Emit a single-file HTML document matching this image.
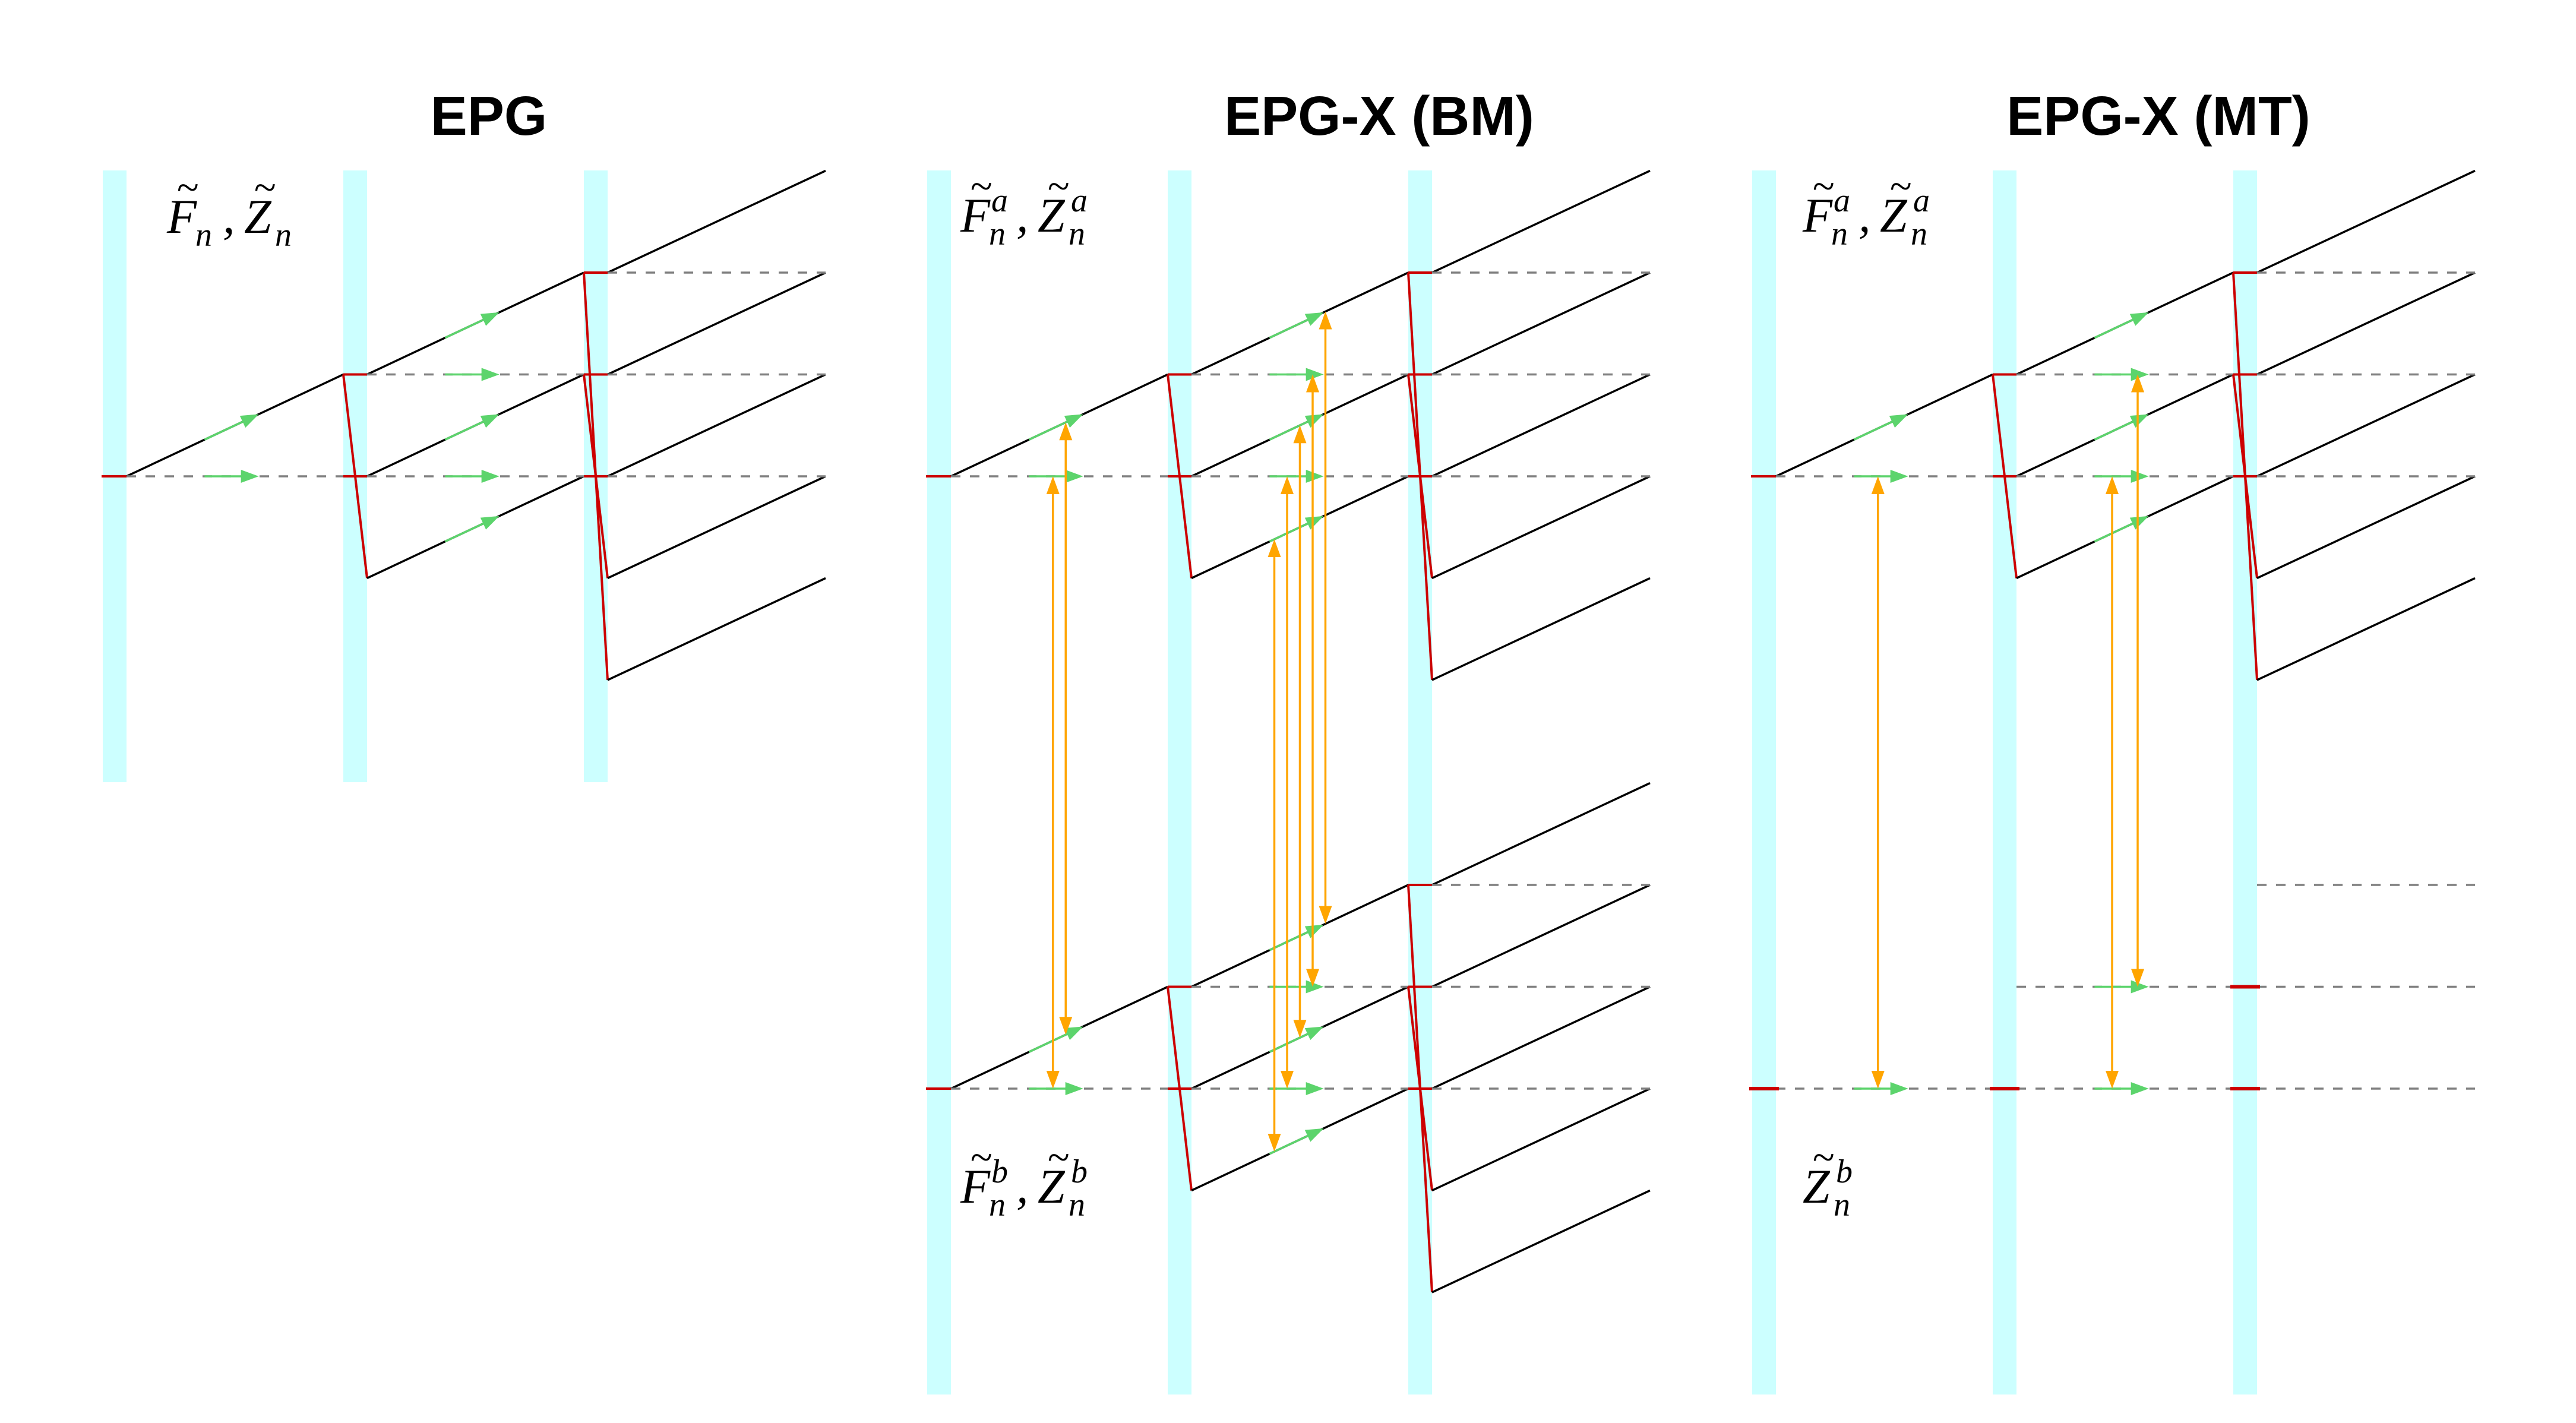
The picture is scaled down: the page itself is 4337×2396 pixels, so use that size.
<!DOCTYPE html>
<html><head><meta charset="utf-8"><style>
html,body{margin:0;padding:0;background:#fff}
svg{display:block}
.t{font-family:"Liberation Sans",sans-serif;font-weight:bold;font-size:93px;text-anchor:middle}
.m{font-family:"Liberation Serif",serif;font-style:italic}
</style></head><body>
<svg id="c" width="4337" height="2396" viewBox="0 0 4337 2396" xmlns="http://www.w3.org/2000/svg">
<text class="t" x="823" y="227">EPG</text>
<text class="t" x="2322" y="227">EPG-X (BM)</text>
<text class="t" x="3634" y="227">EPG-X (MT)</text>
<g id="marks"></g>
<g id="labels"></g>
</svg>
<script>
// ---- data ----
const panelOffsets = [173, 1561, 2950];
const fStartLevels = [[0],[1,0,-1],[2,1,0,-1,-2]];   // F lines leaving band i
const zLevels = [[0],[1,0],[2,1,0]];                 // Z states leaving band i
const redFlat = [[0],[1,0],[2,1,0]];                 // input F levels at band i
const redSlant = [[],[1],[2,1]];                     // k -> -k refocusing
const mtRedBars = [[0],[0],[1,0]];                   // MT pool b bars at band i
const exchangeBM = [[['Z',0],['F',0]],[['F',-1],['Z',0],['F',0],['Z',1],['F',1]]];
// ---- layout ----
const NS='http://www.w3.org/2000/svg';
const marks=document.getElementById('marks');
const bandRel=[0,405,810], bandW=40, gap=365, tail=367, LH=171.5;
const baseA=802, baseB=1833, bandTop=287;
const C={band:'#ccffff',red:'#cc0000',green:'#5cd46c',orange:'#ffa500',dash:'#808080'};
function el(tag,attrs,parent){const e=document.createElementNS(NS,tag);for(const k in attrs)e.setAttribute(k,attrs[k]);(parent||marks).appendChild(e);return e;}
function y(base,k){return base-k*LH;}
function line(x1,y1,x2,y2,stroke,w,name,dash){
  const e=el('line',{x1,y1,x2,y2,stroke,'stroke-width':w});
  if(dash)e.setAttribute('stroke-dasharray',dash);
  
  
  return e;}
function head(tx,ty,dx,dy,color,name){
  const L=Math.hypot(dx,dy),ux=dx/L,uy=dy/L,hl=30,hw=11;
  const bx=tx-ux*hl,by=ty-uy*hl;
  const e=el('polygon',{points:`${tx},${ty} ${bx-uy*hw},${by+ux*hw} ${bx+uy*hw},${by-ux*hw}`,fill:color});
  
  }
function greenArrow(x0,y0,slope){
  const xs=x0+0.36*gap, xe=x0+0.61*gap;
  const ys=y0-slope*0.36*LH, ye=y0-slope*0.61*LH;
  line(xs,ys,xe-(xe-xs)*0.2,ys+(ye-ys)*0.8,C.green,3.5,'transport-arrow');
  head(xe,ye,xe-xs,ye-ys,C.green,'transport-arrow-head');}
function orangeArrow(x,y1,y2){
  line(x,y1+25,x,y2-25,C.orange,3.5,'exchange-arrow');
  head(x,y1,0,-1,C.orange,'exchange-arrow-head');
  head(x,y2,0,1,C.orange,'exchange-arrow-head');}
function bands(off,bottom){
  bandRel.forEach((r,i)=>{const e=el('rect',{x:off+r,y:bandTop,width:bandW,height:bottom-bandTop,fill:C.band});
    
    });}
function fullPool(off,base,green){
  for(let i=0;i<3;i++){
    const bl=off+bandRel[i], br=bl+bandW;
    const len = i<2 ? gap : tail;
    if(i===0) line(bl-2,base,br,base,C.red,4,'pulse-red');
    else {
      redFlat[i].forEach(k=>line(bl,y(base,k),br,y(base,k),C.red,4,'pulse-red'));
      redSlant[i].forEach(k=>line(bl,y(base,k),br,y(base,-k),C.red,4,'pulse-red'));
    }
    fStartLevels[i].forEach(k=>{line(br,y(base,k),br+len,y(base,k+1),'#000',3.5,'f-state-line');
      if(i<2&&green)greenArrow(br,y(base,k),1);});
    zLevels[i].forEach(k=>{line(br,y(base,k),br+len,y(base,k),C.dash,3.5,'z-state-line','16 16');
      if(i<2&&green)greenArrow(br,y(base,k),0);});
  }}
function slotY(base,t,k,dx){return t==='F'?y(base,k)-LH*dx/gap:y(base,k);}
function exchange(off,onlyZ){
  for(let i=0;i<2;i++){
    const br=off+bandRel[i]+bandW, s=exchangeBM[i], n=s.length;
    s.forEach((p,j)=>{
      if(onlyZ&&p[0]!=='Z')return;
      const dx=gap*0.5+(j-(n-1)/2)*21.5;
      orangeArrow(br+dx,slotY(baseA,p[0],p[1],dx),slotY(baseB,p[0],p[1],dx));});
  }}
// panel 1
bands(panelOffsets[0],1317); fullPool(panelOffsets[0],baseA,true);
// panel 2
bands(panelOffsets[1],2348); fullPool(panelOffsets[1],baseA,true); fullPool(panelOffsets[1],baseB,true); exchange(panelOffsets[1],false);
// panel 3
bands(panelOffsets[2],2348); fullPool(panelOffsets[2],baseA,true);
(function(){const off=panelOffsets[2];
  for(let i=0;i<3;i++){const bl=off+bandRel[i],br=bl+bandW,len=i<2?gap:tail;
    zLevels[i].forEach(k=>{line(br,y(baseB,k),br+len,y(baseB,k),C.dash,3.5,'z-b-state-line','16 16');
      if(i<2)greenArrow(br,y(baseB,k),0);});
    mtRedBars[i].forEach(k=>line(bl-5,y(baseB,k),br+5,y(baseB,k),C.red,6,'pulse-red-bar'));}
})();
exchange(panelOffsets[2],true);
// labels
const labels=document.getElementById('labels');
function mathLabel(x,yb,parts,name){
  const g=el('g',{},labels);
  let cx=x;
  parts.forEach((p,idx)=>{
    if(idx>0){el('text',{x:cx+4,y:yb,'font-size':82,class:'m','font-style':'normal'},g).textContent=',';cx+=40;}
    const L=el('text',{x:cx,y:yb,'font-size':82,class:'m'},g);L.textContent=p[0];
    el('text',{x:cx+16,y:yb-54,'font-size':68,class:'m','font-style':'normal'},g).textContent='~';
    const w=p[0]==='F'?52:56;
    if(p[1])el('text',{x:cx+w,y:yb-34,'font-size':56,class:'m'},g).textContent=p[1];
    el('text',{x:cx+w-4,y:yb+22,'font-size':56,class:'m'},g).textContent='n';
    cx+=w+38;
  });}
mathLabel(281,392,[['F',''],['Z','']],'label-fn-zn');
mathLabel(1617,390,[['F','a'],['Z','a']],'label-a-pool');
mathLabel(1617,2025,[['F','b'],['Z','b']],'label-b-pool');
mathLabel(3035,390,[['F','a'],['Z','a']],'label-a-pool-mt');
mathLabel(3035,2025,[['Z','b']],'label-b-pool-mt');
</script>
</body></html>
